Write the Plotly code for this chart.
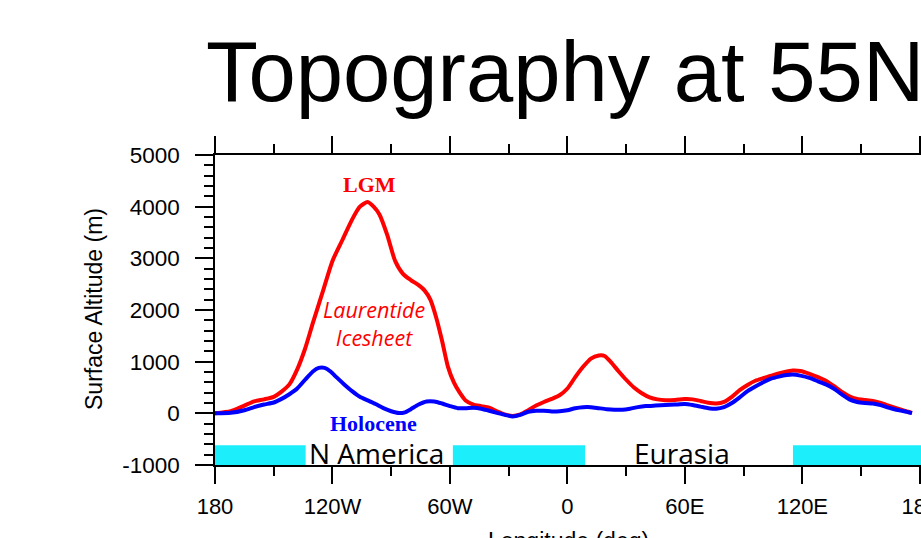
import plotly.graph_objects as go

# ---- data ----
lgm_lon = [-180, -172, -165, -160, -155, -150, -146, -142, -138, -134, -130, -125, -120, -115, -110,
           -106, -102, -99, -96, -92, -88, -84, -80, -76, -73, -70, -67, -64, -61, -58, -55, -52,
           -48, -44, -40, -36, -32, -28, -24, -20, -16, -12, -8, -4, 0, 4, 8, 12, 16, 19, 22, 26,
           30, 34, 38, 42, 46, 50, 55, 60, 64, 68, 72, 76, 80, 84, 88, 92, 96, 100, 105, 110, 115,
           119, 124, 128, 132, 136, 140, 144, 148, 152, 156, 160, 164, 168, 172, 176]
lgm_alt = [0, 40, 150, 230, 270, 320, 420, 560, 850, 1250, 1750, 2350, 2950, 3350, 3750,
           4000, 4090, 4000, 3850, 3450, 2950, 2700, 2580, 2480, 2380, 2200, 1850, 1400, 900, 600, 400, 250,
           170, 140, 110, 40, -20, -50, -20, 60, 150, 220, 280, 350, 480, 700, 900, 1060, 1120, 1110, 1000, 820,
           650, 500, 390, 310, 270, 255, 260, 275, 270, 240, 205, 190, 220, 320, 450, 550, 630, 680, 740, 790, 830,
           820, 760, 700, 630, 530, 420, 330, 280, 260, 240, 200, 150, 100, 50, 10]

hol_lon = [-180, -172, -165, -160, -155, -150, -146, -142, -138, -134, -130, -127, -124, -121, -118,
           -114, -110, -106, -102, -98, -94, -90, -86, -83, -80, -76, -72, -68, -64, -60, -56, -52,
           -48, -44, -40, -36, -32, -28, -24, -20, -16, -12, -8, -4, 0, 4, 8, 12, 16, 20, 24, 28,
           32, 36, 40, 45, 50, 55, 60, 64, 68, 72, 76, 80, 84, 88, 92, 96, 100, 104, 108, 112, 115,
           119, 124, 128, 132, 136, 140, 144, 148, 152, 156, 160, 164, 168, 172, 176]
hol_alt = [0, 10, 60, 120, 170, 210, 280, 370, 480, 650, 810, 880, 880, 810, 700,
           560, 430, 320, 250, 180, 100, 40, 5, 20, 80, 170, 230, 230, 190, 140, 100, 100,
           110, 90, 50, 10, -30, -60, -30, 30, 50, 50, 35, 40, 60, 100, 120, 120, 100, 80, 70, 70,
           90, 120, 140, 150, 160, 170, 180, 160, 130, 100, 90, 120, 200, 310, 430, 520, 600, 670, 710, 740, 750,
           730, 680, 620, 560, 480, 370, 270, 220, 200, 190, 160, 110, 70, 40, 5]

tick_vals = [-180, -120, -60, 0, 60, 120, 180]
tick_text = ["180", "120W", "60W", "0", "60E", "120E", "180"]
ytick_vals = [-1000, 0, 1000, 2000, 3000, 4000, 5000]
ytick_text = ["-1000", "0", "1000", "2000", "3000", "4000", "5000"]

bar_starts = [-180, -58.5, 115.2]
bar_ends = [-133.7, 9.0, 181]
bar_bottom, bar_top = -1000, -620

region_names = ["N America", "Eurasia"]
region_lon = [-97.4, 58.5]
region_alt = [-760, -760]

# ---- layout geometry (px) ----
W, H = 921, 538
L, R, T, B = 215, 0, 155, 73
PW, PH = W - L - R, H - T - B

def px2paper(px, py):
    return (px - L) / PW, (H - B - py) / PH

fig = go.Figure()

fig.add_trace(go.Scatter(x=lgm_lon, y=lgm_alt, mode="lines", line=dict(color="#FF0000", width=4, shape="spline", smoothing=0.6),
                         showlegend=False, hoverinfo="skip"))
fig.add_trace(go.Scatter(x=hol_lon, y=hol_alt, mode="lines", line=dict(color="#0000FF", width=4, shape="spline", smoothing=0.6),
                         showlegend=False, hoverinfo="skip"))

for x0, x1 in zip(bar_starts, bar_ends):
    fig.add_shape(type="rect", xref="x", yref="y", x0=x0, x1=x1, y0=bar_bottom, y1=bar_top,
                  fillcolor="#1DEEFC", line=dict(width=0), layer="below")

for name, lx, ly in zip(region_names, region_lon, region_alt):
    fig.add_annotation(x=lx, y=ly, xref="x", yref="y", text=name, showarrow=False,
                       font=dict(family="Open Sans", size=28, color="black"), yanchor="middle")

fig.add_annotation(x=-101, y=4420, xref="x", yref="y", text="<b>LGM</b>", showarrow=False,
                   font=dict(family="Liberation Serif", size=22, color="#FF0000"))
fig.add_annotation(x=-99, y=-190, xref="x", yref="y", text="<b>Holocene</b>", showarrow=False,
                   font=dict(family="Liberation Serif", size=22, color="#0000FF"))
fig.add_annotation(x=-99, y=1740, xref="x", yref="y", text="<i>Laurentide<br>Icesheet</i>", showarrow=False,
                   font=dict(family="Open Sans", size=21.5, color="#FF0000"))

tx, ty = px2paper(204, 72)
fig.add_annotation(x=tx, y=ty, xref="paper", yref="paper", text="Topography at 55N", showarrow=False,
                   xanchor="left", yanchor="middle",
                   font=dict(family="Liberation Sans, Arial", size=85, color="black"))

yx, yy = px2paper(94, 309)
fig.add_annotation(x=yx, y=yy, xref="paper", yref="paper", text="Surface Altitude (m)", showarrow=False,
                   textangle=-90, xanchor="center", yanchor="middle",
                   font=dict(family="Liberation Sans, Arial", size=23, color="black"))

xx, xy = px2paper(568, 526)
fig.add_annotation(x=xx, y=xy, xref="paper", yref="paper", text="Longitude (deg)", showarrow=False,
                   xanchor="center", yanchor="top",
                   font=dict(family="Liberation Sans, Arial", size=23, color="black"))

fig.update_layout(
    width=W, height=H,
    margin=dict(l=L, r=R, t=T, b=B, pad=0),
    paper_bgcolor="white", plot_bgcolor="white",
    font=dict(family="Liberation Sans, Arial", size=22, color="black"),
)

fig.update_xaxes(range=[-180, 180.6], tickmode="array", tickvals=tick_vals, ticktext=tick_text,
                 ticks="outside", ticklen=17, tickwidth=2, tickcolor="black",
                 showline=True, linecolor="black", linewidth=1.5, mirror="ticks",
                 showgrid=False, zeroline=False, automargin=False, ticklabeloverflow="allow",
                 tickfont=dict(size=22), ticklabelstandoff=4,
                 minor=dict(dtick=30, tick0=-180, ticks="outside", ticklen=9, tickwidth=1.5, tickcolor="black", showgrid=False))
fig.update_yaxes(range=[-1000, 5000], tickmode="array", tickvals=ytick_vals, ticktext=ytick_text,
                 ticks="outside", ticklen=18, tickwidth=2, tickcolor="black",
                 showline=True, linecolor="black", linewidth=1.5, mirror="ticks",
                 showgrid=False, zeroline=False, automargin=False,
                 tickfont=dict(size=22.5), ticklabelstandoff=11,
                 minor=dict(dtick=200, tick0=0, ticks="outside", ticklen=9, tickwidth=1.5, tickcolor="black", showgrid=False))

fig.write_html("out.html")
